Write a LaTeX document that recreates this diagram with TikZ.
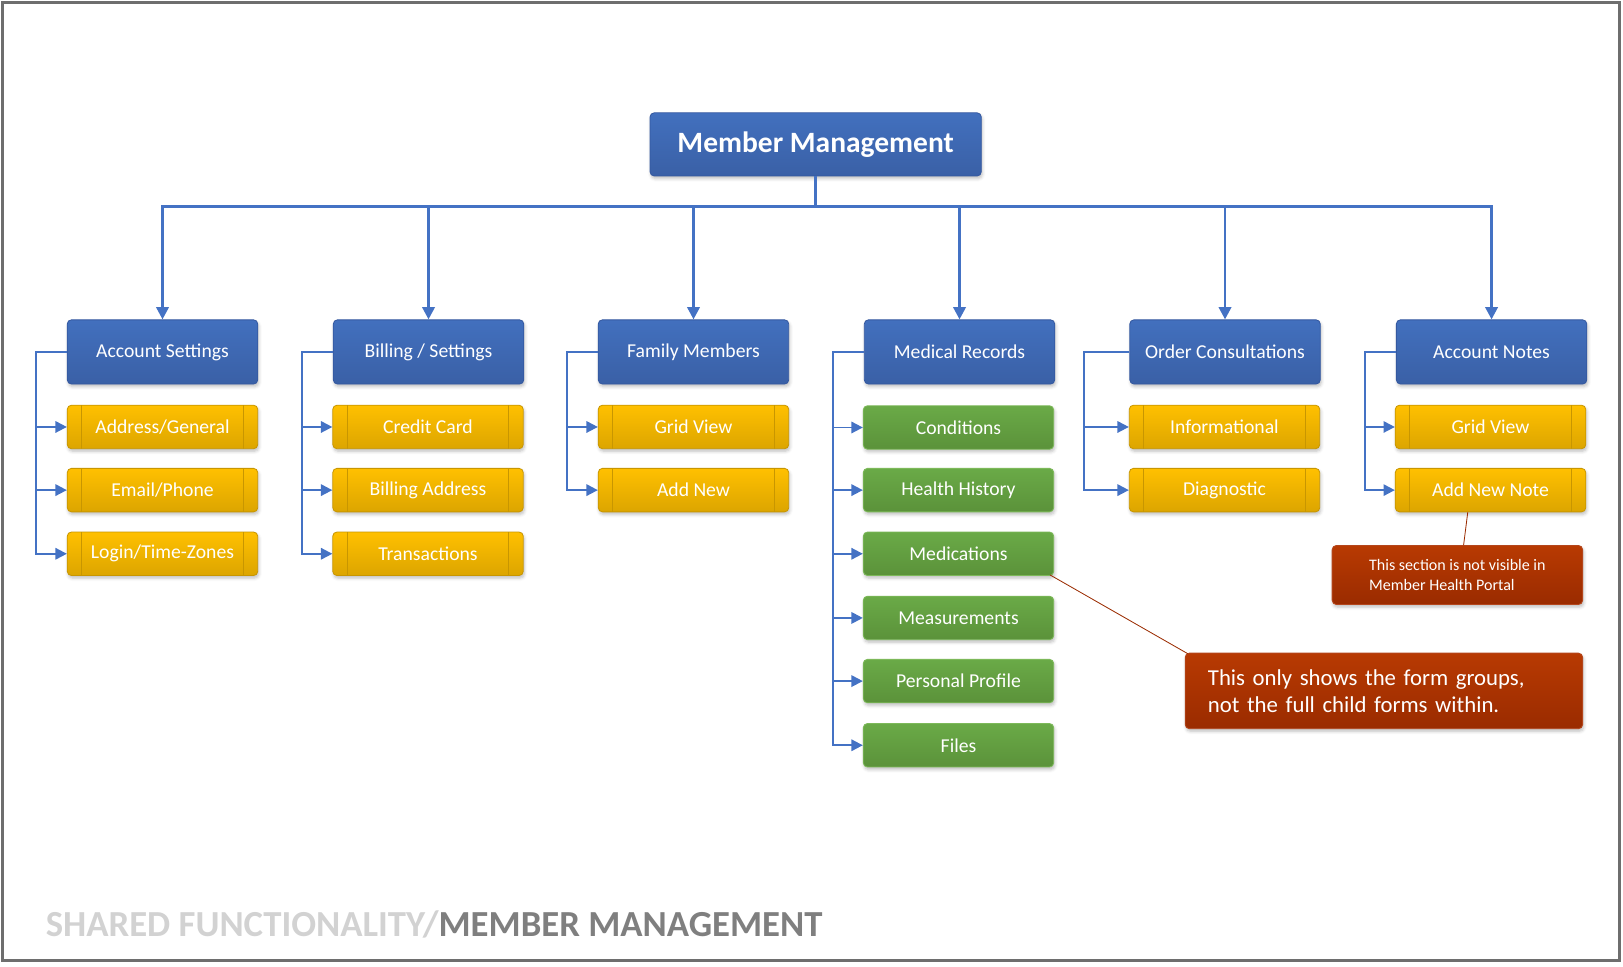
\documentclass[tikz,border=0pt]{standalone}
\usepackage{fontspec}
\setmainfont{Carlito}
\usetikzlibrary{arrows.meta,shadows.blur}

\definecolor{mmlinkblue}{HTML}{4472C4}
\definecolor{mmbluetop}{HTML}{4270BE}
\definecolor{mmblue}{HTML}{3A60A6}
\definecolor{mmblueedge}{HTML}{3458A0}
\definecolor{mmgoldtop}{HTML}{FFC000}
\definecolor{mmgold}{HTML}{DCA500}
\definecolor{mmgoldedge}{HTML}{C89600}
\definecolor{mmgreentop}{HTML}{6AAA47}
\definecolor{mmgreen}{HTML}{5B923A}
\definecolor{mmgreenedge}{HTML}{7DB95A}
\definecolor{mmredtop}{HTML}{B83A02}
\definecolor{mmred}{HTML}{9A2B00}
\definecolor{mmrededge}{HTML}{B4461C}
\definecolor{mmlight}{HTML}{D2D2D2}
\definecolor{mmdark}{HTML}{7F7F7F}
\definecolor{mmframe}{HTML}{6E6E6E}

\begin{document}
\begin{tikzpicture}[%
  x=1pt, y=1pt,
  >={Triangle[length=11pt,width=11pt]},
  bus/.style = {draw=mmlinkblue, line width=2.6pt, -{Triangle[length=12pt,width=12pt]}},
  rail/.style = {draw=mmlinkblue, line width=1.8pt, ->},
  noteline/.style = {draw=mmred, line width=0.8pt},
  box/.style = {rounded corners=4pt, inner sep=0pt, text=white, line width=0.8pt,
    blur shadow={shadow xshift=1pt, shadow yshift=-2.5pt,
      shadow blur radius=3pt, shadow opacity=25}},
  titlebox/.style = {box, top color=mmbluetop, bottom color=mmblue, draw=mmblueedge,
    minimum width=320pt, minimum height=61pt,
    font=\fontsize{28.5}{32}\selectfont\bfseries},
  headbox/.style = {box, top color=mmbluetop, bottom color=mmblue, draw=mmblueedge,
    minimum width=184pt, minimum height=62pt, font=\fontsize{19}{22}\selectfont},
  formbox/.style = {box, top color=mmgoldtop, bottom color=mmgold, draw=mmgoldedge,
    minimum width=184pt, minimum height=42pt, font=\fontsize{19}{22}\selectfont,
    path picture={
      \draw[mmgoldedge, line width=0.8pt]
        ([xshift=14pt]path picture bounding box.north west)
          -- ([xshift=14pt]path picture bounding box.south west)
        ([xshift=-14pt]path picture bounding box.north east)
          -- ([xshift=-14pt]path picture bounding box.south east);}},
  groupbox/.style = {box, top color=mmgreentop, bottom color=mmgreen, draw=mmgreenedge,
    minimum width=184pt, minimum height=42pt, font=\fontsize{19}{22}\selectfont},
  notebox/.style = {box, top color=mmredtop, bottom color=mmred, draw=mmrededge},
]

  \useasboundingbox (0,0) rectangle (1568,-933.3);
  \draw[mmframe, line width=3pt] (2,-2) rectangle (1565,-928);

  \node[titlebox] (mm) at (788,-139.5) {Member Management};

  \node[headbox] (acc)   at (157,-340)    {Account Settings};
  \node[headbox] (bill)  at (414,-340)    {Billing / Settings};
  \node[headbox] (fam)   at (670,-340)    {Family Members};
  \node[headbox] (med)   at (927,-340)    {Medical Records};
  \node[headbox] (ord)   at (1183.5,-340) {Order Consultations};
  \node[headbox] (notes) at (1441,-340)   {Account Notes};

  \node[formbox] (acc1) at (157,-412.5) {Address/General};
  \node[formbox] (acc2) at (157,-473.5) {Email/Phone};
  \node[formbox] (acc3) at (157,-535)   {Login/Time-Zones};

  \node[formbox] (bill1) at (413.5,-412.5) {Credit Card};
  \node[formbox] (bill2) at (413.5,-473.5) {Billing Address};
  \node[formbox] (bill3) at (413.5,-535)   {Transactions};

  \node[formbox] (fam1) at (670,-412.5) {Grid View};
  \node[formbox] (fam2) at (670,-473.5) {Add New};

  \node[groupbox] (med1) at (926,-413)   {Conditions};
  \node[groupbox] (med2) at (926,-473.5) {Health History};
  \node[groupbox] (med3) at (926,-535)   {Medications};
  \node[groupbox] (med4) at (926,-597)   {Measurements};
  \node[groupbox] (med5) at (926,-658)   {Personal Profile};
  \node[groupbox] (med6) at (926,-720)   {Files};

  \node[formbox] (ord1) at (1183,-412.5) {Informational};
  \node[formbox] (ord2) at (1183,-473.5) {Diagnostic};

  \node[formbox] (notes1) at (1440,-412.5) {Grid View};
  \node[formbox] (notes2) at (1440,-473.5) {Add New Note};

  % notes
  \node[notebox, minimum width=242pt, minimum height=57pt, align=left,
    font=\fontsize{15.5}{19.5}\selectfont] (hidden) at (1408,-555.5)
    {This section is not visible in\\Member Health Portal};
  \node[notebox, minimum height=73pt, text width=340pt, inner xsep=22pt, align=left,
    font=\fontsize{22}{26.5}\selectfont] (groups) at (1337,-667.5)
    {This only shows the form groups,\\not the full child forms within.};

  \draw[noteline] ([xshift=-4pt,yshift=1pt]med3.south east) -- ([xshift=3pt,yshift=-1pt]groups.north west);
  \draw[noteline] ([xshift=-22pt]notes2.south) -- ([xshift=6pt]hidden.north);

  % top level
  \draw[bus] (mm.south) -- ++(0,-29) -| (acc.north);
  \draw[bus] (mm.south) -- ++(0,-29) -| (bill.north);
  \draw[bus] (mm.south) -- ++(0,-29) -| (fam.north);
  \draw[bus] (mm.south) -- ++(0,-29) -| (med.north);
  \draw[bus] (mm.south) -- ++(0,-29) -| (ord.north);
  \draw[bus] (mm.south) -- ++(0,-29) -| (notes.north);

  % rails
  \draw[rail] (acc.west) -- ++(-30,0) |- (acc1.west);
  \draw[rail] (acc.west) -- ++(-30,0) |- (acc2.west);
  \draw[rail] (acc.west) -- ++(-30,0) |- (acc3.west);
  \draw[rail] (bill.west) -- ++(-30,0) |- (bill1.west);
  \draw[rail] (bill.west) -- ++(-30,0) |- (bill2.west);
  \draw[rail] (bill.west) -- ++(-30,0) |- (bill3.west);
  \draw[rail] (fam.west) -- ++(-30,0) |- (fam1.west);
  \draw[rail] (fam.west) -- ++(-30,0) |- (fam2.west);
  \draw[rail] (med.west) -- ++(-30,0) |- (med1.west);
  \draw[rail] (med.west) -- ++(-30,0) |- (med2.west);
  \draw[rail] (med.west) -- ++(-30,0) |- (med3.west);
  \draw[rail] (med.west) -- ++(-30,0) |- (med4.west);
  \draw[rail] (med.west) -- ++(-30,0) |- (med5.west);
  \draw[rail] (med.west) -- ++(-30,0) |- (med6.west);
  \draw[rail] (ord.west) -- ++(-44,0) |- (ord1.west);
  \draw[rail] (ord.west) -- ++(-44,0) |- (ord2.west);
  \draw[rail] (notes.west) -- ++(-30,0) |- (notes1.west);
  \draw[rail] (notes.west) -- ++(-30,0) |- (notes2.west);

  \node[anchor=base west, inner sep=0pt, font=\fontsize{35.5}{40}\selectfont\bfseries] (footer) at (44,-905)
    {\textcolor{mmlight}{SHARED FUNCTIONALITY/}\textcolor{mmdark}{MEMBER MANAGEMENT}};

\end{tikzpicture}
\end{document}
